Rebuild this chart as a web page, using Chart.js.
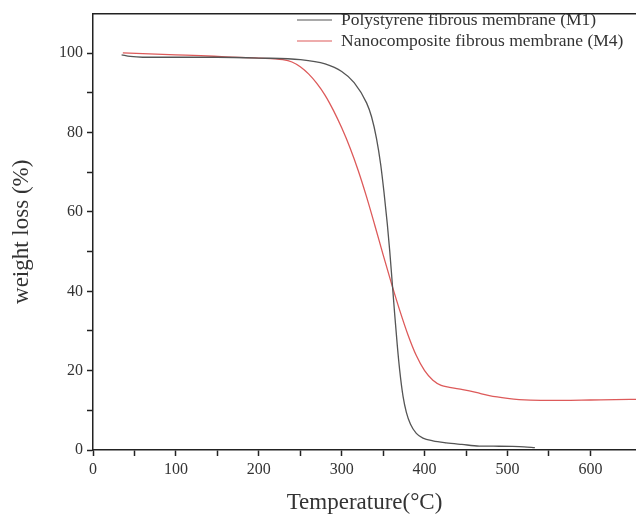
<!DOCTYPE html>
<html>
<head>
<meta charset="utf-8">
<script src="https://cdn.jsdelivr.net/npm/chart.js@4"></script>
<style>
  html, body { margin: 0; padding: 0; background: #fff; }
  #wrap { width: 636px; height: 521px; }
</style>
</head>
<body>
<div id="wrap"><canvas id="tga"></canvas></div>
<script>
// TGA curves
const m1Temp = [34.5, 45, 60, 100, 150, 200, 250, 280, 300, 315, 330, 336, 342, 347, 351, 355, 358, 361, 364, 367, 370, 374, 378, 383, 390, 398, 410, 426, 445, 466, 490, 506, 520, 533]
const m1Weight = [99.6, 99.2, 99.0, 99.0, 99.0, 98.8, 98.4, 97.3, 95.4, 92.6, 87.5, 84, 78.5, 72, 65, 57, 50, 42, 34, 26.5, 20, 13.5, 9.5, 6.5, 4.2, 3.0, 2.3, 1.8, 1.4, 1.0, 0.95, 0.9, 0.8, 0.6]

const m4Temp = [36, 60, 100, 130, 160, 200, 229, 240, 250, 260, 270, 280, 290, 300, 310, 320, 330, 340, 350, 360, 370, 380, 390, 400, 410, 420, 430, 446, 462, 478, 500, 514, 540, 566, 600, 630, 655]
const m4Weight = [100.1, 99.9, 99.6, 99.4, 99.1, 98.8, 98.4, 97.8, 96.6, 94.8, 92.4, 89.4, 85.6, 81.2, 76.2, 70.4, 63.8, 56.6, 49.2, 42.0, 35.2, 29.0, 23.8, 20.0, 17.6, 16.3, 15.8, 15.2, 14.5, 13.7, 13, 12.7, 12.5, 12.5, 12.6, 12.7, 12.75]

const seriesNames = ["Polystyrene fibrous membrane (M1)", "Nanocomposite fibrous membrane (M4)"]
const seriesColors = ["#555555", "#dd5a5a"]

const xMax = 655
const yMax = 110
const xLabelTicks = [0, 100, 200, 300, 400, 500, 600]
const yLabelTicks = [0, 20, 40, 60, 80, 100]

const toPoints = (xs, ys) => xs.map((x, i) => ({ x: x, y: ys[i] }))

const serif = "'Liberation Serif', 'DejaVu Serif', serif"

// legend drawn inside the plot, top right
const innerLegend = {
  id: "innerLegend",
  afterDraw(chart) {
    const ctx = chart.ctx
    ctx.save()
    ctx.font = "17.5px " + serif
    ctx.textBaseline = "middle"
    chart.data.datasets.forEach((ds, i) => {
      const y = 20 + i * 21
      ctx.strokeStyle = ds.borderColor
      ctx.lineWidth = 1.2
      ctx.beginPath()
      ctx.moveTo(297, y)
      ctx.lineTo(332, y)
      ctx.stroke()
      ctx.fillStyle = "#333"
      ctx.fillText(ds.label, 341, y)
    })
    ctx.restore()
  }
}

const ctx = document.getElementById("tga")

new Chart(ctx, {
  type: "line",
  data: {
    datasets: [
      {
        label: seriesNames[0],
        data: toPoints(m1Temp, m1Weight),
        borderColor: seriesColors[0],
        borderWidth: 1.3,
        pointRadius: 0,
        cubicInterpolationMode: "monotone",
      },
      {
        label: seriesNames[1],
        data: toPoints(m4Temp, m4Weight),
        borderColor: seriesColors[1],
        borderWidth: 1.3,
        pointRadius: 0,
        cubicInterpolationMode: "monotone",
      },
    ],
  },
  options: {
    responsive: true,
    maintainAspectRatio: false,
    animation: false,
    layout: { padding: { top: 0, right: 0, left: 0, bottom: 0 } },
    plugins: {
      legend: { display: false },
      tooltip: { enabled: false },
    },
    scales: {
      x: {
        type: "linear",
        min: 0,
        max: xMax,
        afterBuildTicks: (scale) => {
          scale.ticks = scale.ticks.filter((t) => t.value % 50 === 0)
        },
        afterFit: (scale) => { scale.height = 71 },
        ticks: {
          stepSize: 50,
          autoSkip: false,
          maxRotation: 0,
          color: "#333",
          font: { family: serif, size: 16 },
          padding: 4,
          callback: (v) => (xLabelTicks.includes(v) ? v : ""),
        },
        grid: { drawOnChartArea: false, drawTicks: true, tickLength: 6, color: "#222", tickWidth: 1.5 },
        border: { display: true, color: "#222", width: 1.5 },
        title: {
          display: true,
          text: "Temperature(°C)",
          color: "#333",
          font: { family: serif, size: 23 },
          padding: { top: 2 },
        },
      },
      xTop: {
        type: "linear",
        position: "top",
        min: 0,
        max: xMax,
        afterFit: (scale) => { scale.height = 10 },
        ticks: { display: false },
        grid: { display: false },
        border: { display: true, color: "#222", width: 1.5 },
      },
      y: {
        min: 0,
        max: yMax,
        afterBuildTicks: (scale) => {
          scale.ticks = scale.ticks.filter((t) => t.value <= 100)
        },
        afterFit: (scale) => { scale.width = 93 },
        ticks: {
          stepSize: 10,
          autoSkip: false,
          color: "#333",
          font: { family: serif, size: 16 },
          padding: 4,
          callback: (v) => (yLabelTicks.includes(v) ? v : ""),
        },
        grid: { drawOnChartArea: false, drawTicks: true, tickLength: 6, color: "#222", tickWidth: 1.5 },
        border: { display: true, color: "#222", width: 1.5 },
        title: {
          display: true,
          text: "weight loss (%)",
          color: "#333",
          font: { family: serif, size: 23 },
          padding: { top: 8, bottom: 0 },
        },
      },
    },
  },
  plugins: [innerLegend],
})
</script>
</body>
</html>
